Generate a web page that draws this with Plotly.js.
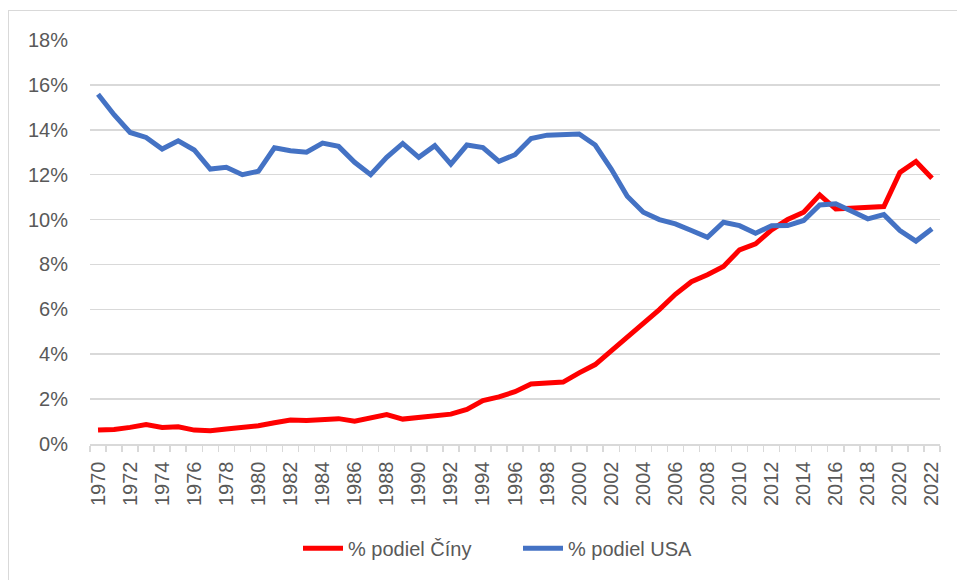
<!DOCTYPE html>
<html>
<head>
<meta charset="utf-8">
<script src="https://cdn.plot.ly/plotly-3.0.1.min.js"></script>
<style>
html,body{margin:0;padding:0;background:#fff;}
#wrap{position:relative;width:957px;height:580px;overflow:hidden;}
#frame{position:absolute;left:8px;top:10px;width:1000px;height:700px;border:1px solid #d9d9d9;box-sizing:border-box;pointer-events:none;}
#chart{position:absolute;left:0;top:0;width:957px;height:580px;}
</style>
</head>
<body>
<div id="wrap">
<div id="chart"></div>
<div id="frame"></div>
</div>
<script>
const years = [];
for (let y = 1970; y <= 2022; y++) years.push(y);

const chinaShare = [0.62,0.65,0.74,0.87,0.74,0.77,0.62,0.59,0.67,0.73,0.81,0.95,1.07,1.05,1.11,1.13,1.02,1.14,1.31,1.11,
  1.19,1.29,1.33,1.54,1.93,2.10,2.33,2.67,2.72,2.76,3.17,3.54,4.15,4.74,5.33,5.99,6.67,7.23,7.54,7.91,
  8.65,8.92,9.54,10.0,10.33,11.1,10.47,10.5,10.5,10.58,12.1,12.59,11.84];

const usaShare = [15.58,14.67,13.88,13.66,13.14,13.51,13.1,12.25,12.33,12.0,12.15,13.2,13.07,13.0,13.41,13.26,12.55,12.0,12.77,13.39,
  12.77,13.29,12.47,13.32,13.21,12.59,12.89,13.61,13.76,13.81,13.81,13.32,12.25,11.04,10.33,10.0,9.81,9.51,9.21,9.88,
  9.73,9.39,9.72,9.73,9.96,10.65,10.7,10.37,10.03,10.22,9.51,9.04,9.59];

const seriesNames = ['% podiel Číny', '% podiel USA'];
const xTickVals = years.filter(y => y % 2 === 0);
const yTickVals = [0,2,4,6,8,10,12,14,16,18];
const yTickText = yTickVals.map(v => v + '%');

const font = 'Liberation Sans, Arial, sans-serif';
const grey = '#595959';

const traces = [
  {x: years, y: chinaShare, name: seriesNames[0], type: 'scatter', mode: 'lines',
   line: {color: '#ff0000', width: 5}},
  {x: years, y: usaShare, name: seriesNames[1], type: 'scatter', mode: 'lines',
   line: {color: '#4472c4', width: 5}}
];

const layout = {
  width: 957, height: 580,
  margin: {l: 90, r: 17, t: 40, b: 136},
  paper_bgcolor: '#ffffff', plot_bgcolor: '#ffffff',
  font: {family: font, color: grey, size: 20},
  showlegend: true,
  legend: {orientation: 'h', x: (298 - 90) / 850, xanchor: 'left', y: -0.258, yanchor: 'middle',
           font: {family: font, size: 20, color: grey}, entrywidth: 165, itemwidth: 40},
  xaxis: {
    range: [1969.5, 2022.5], showgrid: false, zeroline: false,
    tickmode: 'array', tickvals: xTickVals, ticktext: xTickVals.map(String),
    tickangle: -90, ticks: '', ticklabelstandoff: 8, tickfont: {family: font, size: 20, color: grey},
    showline: true, linecolor: '#d9d9d9', linewidth: 1.5,
    minor: {tick0: 1969.5, dtick: 1, ticks: 'outside', ticklen: 6, tickcolor: '#d9d9d9', tickwidth: 1.5, showgrid: false}
  },
  yaxis: {
    range: [0, 18], tickmode: 'array', tickvals: yTickVals, ticktext: yTickText,
    showgrid: true, gridcolor: '#d9d9d9', gridwidth: 1.5, zeroline: false, showline: false,
    ticks: '', ticklabelstandoff: 21, tickfont: {family: font, size: 20, color: grey}
  }
};

Plotly.newPlot('chart', traces, layout, {displayModeBar: false, staticPlot: true});
</script>
</body>
</html>
